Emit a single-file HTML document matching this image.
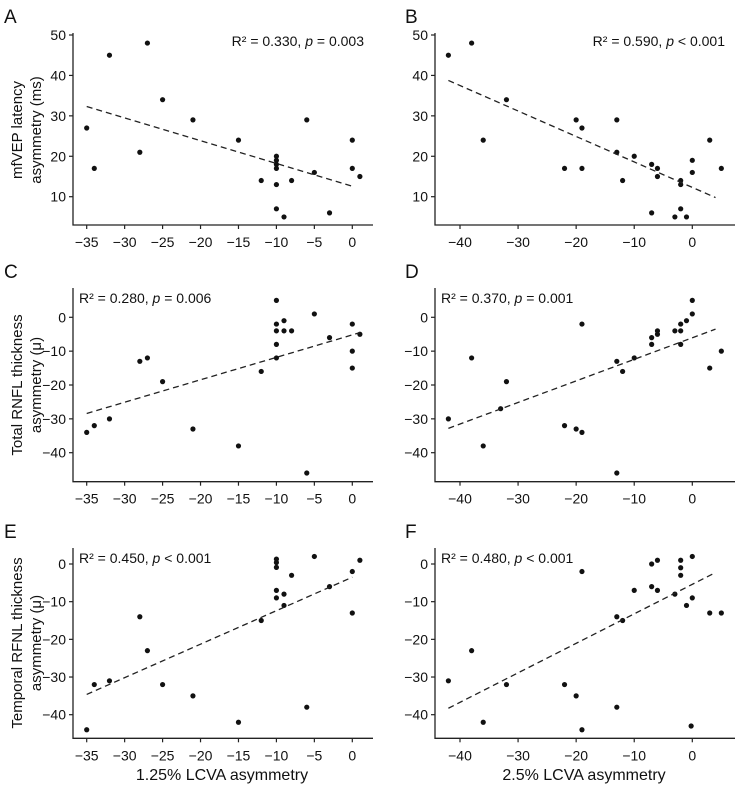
<!DOCTYPE html>
<html><head><meta charset="utf-8"><style>
body{margin:0;background:#fff}
svg text{font-family:"Liberation Sans",sans-serif;fill:#111}
</style></head><body>
<svg id="fig" width="737" height="785" viewBox="0 0 737 785" xmlns="http://www.w3.org/2000/svg"></svg>
<script>
// ---- data ----
const aX=[-35,-34,-32,-28,-27,-25,-21,-15,-12,-10,-10,-10,-10,-10,-10,-9,-8,-6,-5,-3,0,0,1];
const aY=[27,17,45,21,48,34,29,24,14,20,19,18,17,13,7,5,14,29,16,6,24,17,15];
const bX=[-42,-38,-36,-32,-22,-20,-19,-19,-13,-13,-12,-10,-7,-7,-6,-6,-3,-2,-2,-2,-1,0,0,3,5];
const bY=[45,48,24,34,17,29,27,17,29,21,14,20,18,6,17,15,5,14,13,7,5,19,16,24,17];
const cX=[-35,-34,-32,-28,-27,-25,-21,-15,-12,-10,-10,-10,-10,-10,-9,-9,-8,-6,-5,-3,0,0,0,1];
const cY=[-34,-32,-30,-13,-12,-19,-33,-38,-16,5,-2,-4,-8,-12,-1,-4,-4,-46,1,-6,-2,-10,-15,-5];
const dX=[-42,-38,-36,-33,-32,-22,-20,-19,-19,-13,-13,-12,-10,-7,-7,-6,-6,-3,-2,-2,-2,-1,0,0,3,5];
const dY=[-30,-12,-38,-27,-19,-32,-33,-34,-2,-13,-46,-16,-12,-6,-8,-4,-5,-4,-2,-4,-8,-1,1,5,-15,-10];
const eX=[-35,-34,-32,-28,-27,-25,-21,-15,-12,-10,-10,-10,-10,-10,-9,-9,-8,-6,-5,-3,0,0,1];
const eY=[-44,-32,-31,-14,-23,-32,-35,-42,-15,1.3,0.4,-0.9,-7,-9,-8,-11,-3,-38,2,-6,-2,-13,1];
const fX=[-42,-38,-36,-32,-22,-20,-19,-19,-13,-13,-12,-10,-7,-7,-6,-6,-3,-2,-2,-2,-1,0,0,-0.2,3,5];
const fY=[-31,-23,-42,-32,-32,-35,-2,-44,-14,-38,-15,-7,0,-6,1,-7,-8,1,-1,-3,-11,2,-9,-43,-13,-13];
const fitSlope=[-0.563,-0.630,0.663,0.637,0.889,0.783];
const fitIntercept=[12.6,12.3,-5.2,-6.05,-3.5,-5.4];
const fitRange=[[-35,0],[-42,4],[-35,1],[-42,4],[-35,0],[-42,4]];
const xTicks1=[-35,-30,-25,-20,-15,-10,-5,0];
const xTicks2=[-40,-30,-20,-10,0];
const yTicksTop=[10,20,30,40,50];
const yTicksRnfl=[0,-10,-20,-30,-40];
const stats=["R² = 0.330, ","R² = 0.590, ","R² = 0.280, ","R² = 0.370, ","R² = 0.450, ","R² = 0.480, "];
const pvals=["= 0.003","< 0.001","= 0.006","= 0.001","< 0.001","< 0.001"];
// ---- layout ----
const NS="http://www.w3.org/2000/svg", svg=document.getElementById('fig');
function el(t,a,txt){const e=document.createElementNS(NS,t);for(const k in a)e.setAttribute(k,a[k]);if(txt!=null)e.textContent=txt;svg.appendChild(e);return e;}
const cols=[{ax:73,x0:-35,p0:86.7,x1:0,p1:352.3,right:373,ticks:xTicks1},{ax:435,x0:-40,p0:460,x1:0,p1:692.3,right:735,ticks:xTicks2}];
const rows=[{v0:50,q0:35,v1:10,q1:196.7,top:33,bot:225,ticks:yTicksTop},{v0:0,q0:317.3,v1:-40,q1:452.7,top:288,bot:481.7,ticks:yTicksRnfl},{v0:0,q0:564,v1:-40,q1:714.7,top:548,bot:738.3,ticks:yTicksRnfl}];
const data=[[aX,aY],[bX,bY],[cX,cY],[dX,dY],[eX,eY],[fX,fY]];
const letters=["A","B","C","D","E","F"];
for(let i=0;i<6;i++){
  const c=cols[i%2], r=rows[Math.floor(i/2)];
  const sx=v=>c.p0+(v-c.x0)*(c.p1-c.p0)/(c.x1-c.x0);
  const sy=v=>r.q0+(v-r.v0)*(r.q1-r.q0)/(r.v1-r.v0);
  const lt=el('text',{x:i%2?405:4,y:r.top-10,'font-size':19},letters[i]);
  
  
  const ax=el('path',{d:`M${c.ax},${r.top}V${r.bot}H${c.right}`,stroke:'#222','stroke-width':1.3,fill:'none'});
  
  
  c.ticks.forEach(t=>{const x=sx(t);
    el('line',{x1:x,x2:x,y1:r.bot,y2:r.bot+4,stroke:'#222','stroke-width':1.2});
    const tl=el('text',{x:x,y:r.bot+22,'font-size':14,'text-anchor':'middle'},t<0?'−'+(-t):String(t));
    
    });
  r.ticks.forEach(t=>{const y=sy(t);
    el('line',{x1:c.ax-4,x2:c.ax,y1:y,y2:y,stroke:'#222','stroke-width':1.2});
    const tl=el('text',{x:c.ax-7,y:y+5,'font-size':14,'text-anchor':'end'},t<0?'−'+(-t):String(t));
    
    });
  const [xs,ys]=data[i];
  xs.forEach((xv,j)=>{const d=el('circle',{cx:sx(xv),cy:sy(ys[j]),r:2.6,fill:'#111'});
    
    });
  const [f0,f1]=fitRange[i];
  const fl=el('line',{x1:sx(f0),y1:sy(fitIntercept[i]+fitSlope[i]*f0),x2:sx(f1),y2:sy(fitIntercept[i]+fitSlope[i]*f1),stroke:'#222','stroke-width':1.3,'stroke-dasharray':'6,4'});
  
  
  const rightAlign=i<2;
  const tx=rightAlign?(i===0?364:725):(c.ax+6);
  const ty=rightAlign?46:r.top+15;
  const an=el('text',{x:tx,y:ty,'font-size':14,'text-anchor':rightAlign?'end':'start'});
  
  
  const s1=document.createElementNS(NS,'tspan');s1.textContent=stats[i];an.appendChild(s1);
  const s2=document.createElementNS(NS,'tspan');s2.setAttribute('font-style','italic');s2.textContent='p';an.appendChild(s2);
  const s3=document.createElementNS(NS,'tspan');s3.textContent=' '+pvals[i];an.appendChild(s3);
}
const ytitles=[["mfVEP latency","asymmetry (ms)",130],["Total RNFL thickness","asymmetry (μ)",385],["Temporal RFNL thickness","asymmetry (μ)",643]];
ytitles.forEach((t,k)=>{
  [0,1].forEach(l=>{const x=22+l*19;
    const e=el('text',{x:x,y:t[2],'font-size':15,'text-anchor':'middle',transform:`rotate(-90 ${x} ${t[2]})`},t[l]);
    
    });
});
const xt1=el('text',{x:222,y:780,'font-size':16,'text-anchor':'middle'},'1.25% LCVA asymmetry');


const xt2=el('text',{x:584,y:780,'font-size':16,'text-anchor':'middle'},'2.5% LCVA asymmetry');


</script>
</body></html>
